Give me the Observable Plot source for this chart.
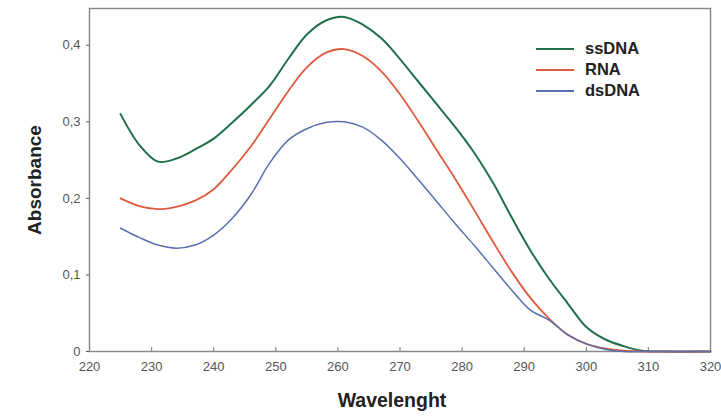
<!DOCTYPE html>
<html>
<head>
<meta charset="utf-8">
<script src="https://cdn.jsdelivr.net/npm/d3@7"></script>
<script src="https://cdn.jsdelivr.net/npm/@observablehq/plot@0.6"></script>
<style>
  body { margin: 0; background: #fff; font-family: "Liberation Sans", Arial, sans-serif; }
  #wrap { position: relative; width: 721px; height: 417px; }
  #legend { position: absolute; left: 536px; top: 38px; }
  .row { display: flex; align-items: center; height: 21px; }
  .sw { width: 38px; height: 0; border-top-style: solid; margin-right: 11px; }
  .lab { font-weight: bold; font-size: 16.5px; color: #222; }
</style>
</head>
<body>
<div id="wrap"></div>
<script>
const wavelength = [225, 228, 231, 234, 237, 240, 243, 246, 249, 252, 255, 258, 261, 264, 267, 270, 273, 276, 279, 282, 285, 288, 291, 294, 297, 300, 303, 306, 309, 312, 320];
const ssDNA = [0.310, 0.270, 0.248, 0.252, 0.264, 0.278, 0.299, 0.322, 0.347, 0.382, 0.414, 0.432, 0.437, 0.427, 0.409, 0.382, 0.352, 0.322, 0.292, 0.259, 0.220, 0.175, 0.132, 0.095, 0.063, 0.032, 0.016, 0.007, 0.001, 0, 0];
const RNA = [0.200, 0.190, 0.186, 0.189, 0.197, 0.212, 0.238, 0.268, 0.304, 0.340, 0.371, 0.390, 0.395, 0.386, 0.366, 0.336, 0.300, 0.262, 0.224, 0.184, 0.143, 0.104, 0.070, 0.043, 0.022, 0.010, 0.004, 0.001, 0, 0, 0];
const dsDNA = [0.161, 0.149, 0.139, 0.135, 0.139, 0.152, 0.174, 0.205, 0.246, 0.276, 0.291, 0.299, 0.300, 0.293, 0.276, 0.252, 0.224, 0.195, 0.166, 0.138, 0.109, 0.080, 0.054, 0.041, 0.022, 0.010, 0.003, 0, 0, 0, 0];
const seriesNames = ["ssDNA", "RNA", "dsDNA"];
const seriesColors = ["#22704a", "#de5b3f", "#5a6fb0"];
const seriesWidths = [2, 1.8, 1.5];
const xTicks = [220, 230, 240, 250, 260, 270, 280, 290, 300, 310, 320];
const yTicks = [0, 0.1, 0.2, 0.3, 0.4];
const xTitle = "Wavelenght";
const yTitle = "Absorbance";

const values = [ssDNA, RNA, dsDNA];
const rows = [];
values.forEach((arr, s) => arr.forEach((v, i) => rows.push({series: seriesNames[s], x: wavelength[i], y: v})));

const fmt = d => d === 0 ? "0" : d.toFixed(1).replace(".", ",");
const W = 721, H = 417, mT = 8, mB = 66;

const chart = Plot.plot({
  width: W,
  height: H,
  marginLeft: 89,
  marginRight: 11,
  marginTop: mT,
  marginBottom: mB,
  style: {fontFamily: "'Liberation Sans', Arial, sans-serif", background: "#fff"},
  x: {domain: [220, 320]},
  y: {domain: [0, 0.448]},
  marks: [
    Plot.frame({stroke: "#8a8a8a", strokeWidth: 1.5}),
    Plot.axisX({ticks: xTicks, tickSize: 0, tickPadding: 10, tickFormat: d => d, fontSize: 13, color: "#555", label: null}),
    Plot.ruleX(xTicks.slice(1, -1), {x: d => d, stroke: "#8a8a8a", strokeWidth: 1.2, insetTop: H - mT - mB - 4}),
    Plot.axisY({ticks: yTicks, tickSize: 3, tickPadding: 6, tickFormat: fmt, fontSize: 13, color: "#555", label: null}),
    Plot.axisY({ticks: [], tickSize: 0, label: yTitle, labelAnchor: "center", labelArrow: "none", labelOffset: 62,
      fontSize: 19, fontWeight: "bold", color: "#222"}),
    ...seriesNames.map((name, s) => Plot.line(rows.filter(r => r.series === name), {
      x: "x", y: "y", stroke: seriesColors[s], strokeWidth: seriesWidths[s], curve: "catmull-rom"
    })),
    Plot.text([xTitle], {text: d => d, frameAnchor: "bottom", dy: 55, dx: -8, fontSize: 19.5, fontWeight: "bold", fill: "#222"})
  ]
});
const wrap = document.getElementById("wrap");
wrap.appendChild(chart);

const legend = document.createElement("div");
legend.id = "legend";
seriesNames.forEach((name, s) => {
  const row = document.createElement("div");
  row.className = "row";
  const sw = document.createElement("div");
  sw.className = "sw";
  sw.style.borderTopColor = seriesColors[s];
  sw.style.borderTopWidth = seriesWidths[s] + 0.5 + "px";
  const lab = document.createElement("span");
  lab.className = "lab";
  lab.textContent = name;
  row.appendChild(sw);
  row.appendChild(lab);
  legend.appendChild(row);
});
wrap.appendChild(legend);
</script>
</body>
</html>
